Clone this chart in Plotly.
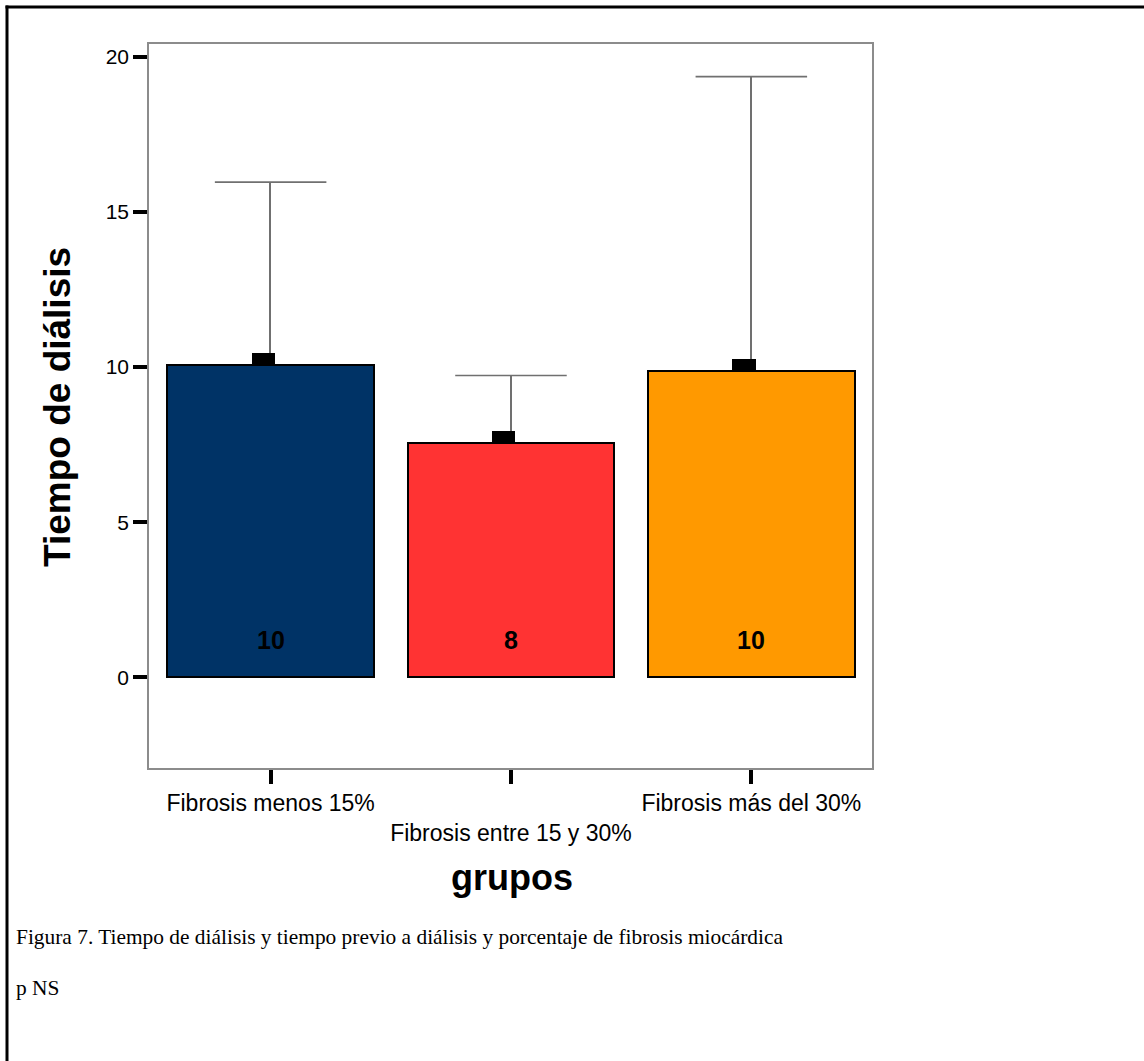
import plotly.graph_objects as go

# Dialysis time by myocardial fibrosis group
groups = ["Fibrosis menos 15%", "Fibrosis entre 15 y 30%", "Fibrosis más del 30%"]
tick_text = ["Fibrosis menos 15%", "<br>Fibrosis entre 15 y 30%", "Fibrosis más del 30%"]
means = [10.07, 7.56, 9.88]
upper = [15.96, 9.73, 19.36]
counts = [10, 8, 10]
bar_colors = ["#003366", "#FF3333", "#FF9900"]

W, H = 1144, 1061
ML, MR, MT, MB = 149, 272, 44, 293
plot_w = W - ML - MR
plot_h = H - MT - MB


def px_x(px):
    return (px - ML) / plot_w


def px_y(py):
    return (H - MB - py) / plot_h


xpos = list(range(len(groups)))
bar_width = 0.861
whisker_w = 0.0068
mark_w, mark_off, mark_h = 0.097, -0.079, 0.38
cap_half = 0.232

fig = go.Figure()

# Group means
fig.add_trace(go.Bar(
    x=xpos, y=means, width=bar_width,
    marker=dict(color=bar_colors, line=dict(color="black", width=2)),
    hoverinfo="skip", showlegend=False,
))

# Vertical part of the upper error bar
fig.add_trace(go.Bar(
    x=xpos, y=[u - m for u, m in zip(upper, means)], base=means,
    width=whisker_w, marker=dict(color="#707070", line=dict(width=0)),
    hoverinfo="skip", showlegend=False,
))

# Small mean markers sitting on the bar tops
fig.add_trace(go.Bar(
    x=xpos, y=[mark_h] * len(means), base=means,
    width=mark_w, offset=mark_off,
    marker=dict(color="black", line=dict(width=0)),
    hoverinfo="skip", showlegend=False,
))

# Error bar caps
cap_x, cap_y = [], []
for i, u in zip(xpos, upper):
    cap_x += [i - cap_half, i + cap_half, None]
    cap_y += [u, u, None]
fig.add_trace(go.Scatter(
    x=cap_x, y=cap_y, mode="lines",
    line=dict(color="#707070", width=1.6),
    hoverinfo="skip", showlegend=False,
))

annotations = []
for i, n in zip(xpos, counts):
    annotations.append(dict(
        x=i, y=0, xref="x", yref="y", yshift=37, showarrow=False,
        text=f"<b>{n}</b>", font=dict(family="Liberation Sans", size=25, color="black"),
    ))

annotations += [
    dict(x=px_x(512), y=px_y(878), xref="paper", yref="paper", showarrow=False,
         text="<b>grupos</b>", font=dict(family="Liberation Sans", size=36, color="black"),
         xanchor="center", yanchor="middle"),
    dict(x=px_x(57), y=px_y(407), xref="paper", yref="paper", showarrow=False,
         text="<b>Tiempo de diálisis</b>", textangle=-90,
         font=dict(family="Liberation Sans", size=37, color="black"),
         xanchor="center", yanchor="middle"),
    dict(x=px_x(14), y=px_y(937), xref="paper", yref="paper", showarrow=False,
         text="Figura 7. Tiempo de diálisis y tiempo previo a diálisis y porcentaje de fibrosis miocárdica",
         font=dict(family="Liberation Serif", size=21.4, color="black"),
         xanchor="left", yanchor="middle"),
    dict(x=px_x(14), y=px_y(988), xref="paper", yref="paper", showarrow=False,
         text="p NS", font=dict(family="Liberation Serif", size=21.4, color="black"),
         xanchor="left", yanchor="middle"),
]

# Page frame: top and left edges
frame = dict(xref="paper", yref="paper", line=dict(color="black", width=3), layer="below")
shapes = [
    dict(type="line", x0=px_x(5.5), x1=px_x(W), y0=px_y(7), y1=px_y(7), **frame),
    dict(type="line", x0=px_x(7), x1=px_x(7), y0=px_y(5.5), y1=px_y(H), **frame),
]

fig.update_layout(
    width=W, height=H,
    margin=dict(l=ML, r=MR, t=MT, b=MB, pad=0),
    paper_bgcolor="white", plot_bgcolor="white",
    barmode="overlay",
    bargap=0,
    annotations=annotations,
    shapes=shapes,
    font=dict(family="Liberation Sans", color="black"),
)

fig.update_xaxes(
    range=[-0.506, 2.502], tickmode="array", tickvals=xpos, ticktext=tick_text,
    ticks="outside", ticklen=14, tickwidth=4, tickcolor="black",
    tickfont=dict(family="Liberation Sans", size=23, color="black"),
    showline=True, mirror=True, linecolor="#8c8c8c", linewidth=1.5,
    showgrid=False, zeroline=False,
)
fig.update_yaxes(
    range=[-2.92, 20.41], tickmode="array", tickvals=[0, 5, 10, 15, 20],
    ticks="outside", ticklen=14, tickwidth=4, tickcolor="black",
    tickfont=dict(family="Liberation Sans", size=21, color="black"),
    showline=True, mirror=True, linecolor="#8c8c8c", linewidth=1.5,
    showgrid=False, zeroline=False,
)

fig.write_html("out.html")
